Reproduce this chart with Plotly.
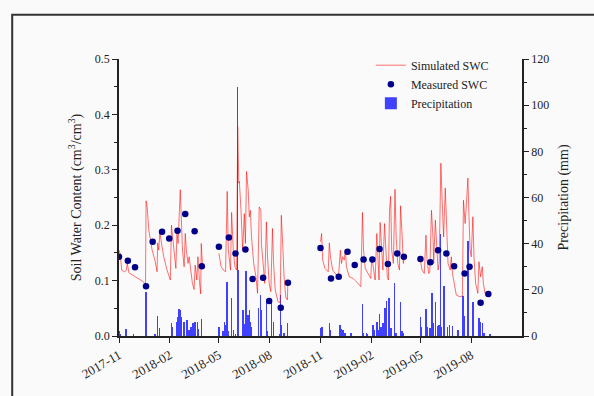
import plotly.graph_objects as go

# ---------------- data ----------------
sim_dates = [
    # segment 1
    "2017-11-01","2017-11-03","2017-11-06","2017-11-11","2017-11-14","2017-11-16","2017-11-19",
    "2017-11-25","2017-12-06","2017-12-15","2017-12-19","2017-12-20","2017-12-22","2017-12-25",
    "2017-12-31","2018-01-05","2018-01-09","2018-01-10","2018-01-12","2018-01-14","2018-01-17",
    "2018-01-21","2018-01-27","2018-02-02","2018-02-04","2018-02-06","2018-02-09","2018-02-12",
    "2018-02-14","2018-02-16","2018-02-20","2018-02-22","2018-02-24","2018-02-27","2018-03-01",
    "2018-03-03","2018-03-06","2018-03-08","2018-03-11","2018-03-14","2018-03-17","2018-03-19",
    "2018-03-22","2018-03-24","2018-03-27","2018-03-29","2018-03-30","2018-04-01",
    None,
    # segment 2
    "2018-05-01","2018-05-05","2018-05-09","2018-05-13","2018-05-16","2018-05-18","2018-05-22",
    "2018-05-24","2018-05-27","2018-05-30","2018-06-02","2018-06-04","2018-06-06","2018-06-07",
    "2018-06-10","2018-06-13","2018-06-16","2018-06-18","2018-06-20","2018-06-23","2018-06-25",
    "2018-06-27","2018-06-29","2018-07-03","2018-07-07","2018-07-10","2018-07-13","2018-07-16",
    "2018-07-17","2018-07-20","2018-07-23","2018-07-26","2018-07-28","2018-07-31","2018-08-03",
    "2018-08-06","2018-08-08","2018-08-11","2018-08-16","2018-08-20","2018-08-22","2018-08-25",
    "2018-08-27","2018-08-30","2018-09-02","2018-09-03",
    None,
    # segment 3
    "2018-11-01","2018-11-03","2018-11-05","2018-11-09","2018-11-15","2018-11-17","2018-11-19",
    "2018-11-23","2018-11-30","2018-12-04","2018-12-07","2018-12-09","2018-12-11","2018-12-14",
    "2018-12-16","2018-12-18","2018-12-23","2018-12-30","2019-01-05","2019-01-11","2019-01-13",
    "2019-01-16","2019-01-18","2019-01-21","2019-01-26","2019-01-31","2019-02-02","2019-02-05",
    "2019-02-08","2019-02-11","2019-02-13","2019-02-15","2019-02-17","2019-02-20","2019-02-22",
    "2019-02-25","2019-02-27","2019-03-02","2019-03-04","2019-03-06","2019-03-08","2019-03-10",
    "2019-03-13","2019-03-16","2019-03-18","2019-03-21","2019-03-24","2019-03-26","2019-03-29",
    "2019-03-31","2019-04-02",
    None,
    # segment 4
    "2019-05-01","2019-05-04","2019-05-08","2019-05-11","2019-05-13","2019-05-16","2019-05-18",
    "2019-05-21","2019-05-24","2019-05-25","2019-05-28","2019-05-30","2019-06-02","2019-06-04",
    "2019-06-07","2019-06-10","2019-06-12","2019-06-15","2019-06-18","2019-06-20","2019-06-24",
    "2019-06-26","2019-06-28","2019-07-01","2019-07-05","2019-07-11","2019-07-16","2019-07-18",
    "2019-07-21","2019-07-23","2019-07-26","2019-07-28","2019-07-30","2019-08-01","2019-08-04",
    "2019-08-06","2019-08-09","2019-08-13","2019-08-15","2019-08-18","2019-08-21","2019-08-23",
    "2019-08-26","2019-08-31","2019-09-04",
]
sim_swc = [
    0.155,0.149,0.119,0.116,0.118,0.131,0.114,
    0.110,0.104,0.098,0.092,0.244,0.233,0.191,
    0.155,0.137,0.116,0.168,0.155,0.188,0.167,
    0.143,0.119,0.101,0.200,0.179,0.155,0.122,
    0.188,0.167,0.264,0.203,0.155,0.125,0.185,
    0.155,0.131,0.143,0.116,0.095,0.084,0.128,
    0.101,0.143,0.095,0.076,0.167,0.131,
    None,
    0.149,0.125,0.119,0.116,0.261,0.155,0.119,
    0.223,0.155,0.125,0.119,0.378,0.276,0.279,
    0.227,0.155,0.221,0.167,0.297,0.264,0.215,
    0.227,0.179,0.131,0.107,0.077,0.233,0.227,
    0.167,0.125,0.095,0.206,0.143,0.095,0.080,
    0.194,0.131,0.083,0.062,0.060,0.218,0.155,
    0.107,0.071,0.065,0.101,
    None,
    0.170,0.185,0.137,0.122,0.116,0.168,0.143,
    0.119,0.110,0.113,0.155,0.131,0.143,0.137,
    0.155,0.125,0.107,0.104,0.098,0.092,0.089,
    0.223,0.155,0.122,0.113,0.104,0.143,0.119,
    0.101,0.185,0.131,0.101,0.205,0.143,0.119,
    0.203,0.155,0.107,0.101,0.227,0.252,0.155,
    0.131,0.265,0.179,0.131,0.119,0.235,0.179,
    0.131,0.143,
    None,
    0.137,0.119,0.113,0.182,0.137,0.113,0.116,
    0.227,0.173,0.131,0.209,0.161,0.119,0.131,
    0.312,0.227,0.179,0.267,0.179,0.131,0.119,
    0.143,0.113,0.095,0.074,0.071,0.072,0.245,
    0.203,0.233,0.285,0.215,0.155,0.143,0.215,
    0.143,0.095,0.077,0.134,0.107,0.125,0.095,
    0.077,0.072,0.071,
]

meas_dates = [
    "2017-11-01","2017-11-17","2017-11-30","2017-12-20","2018-01-01","2018-01-18","2018-01-31",
    "2018-02-15","2018-03-01","2018-03-18","2018-03-31","2018-05-01","2018-05-19","2018-05-31",
    "2018-06-18","2018-07-01","2018-07-20","2018-07-31","2018-08-21","2018-09-03","2018-11-01",
    "2018-11-20","2018-12-04","2018-12-20","2019-01-02","2019-01-18","2019-02-03","2019-02-16",
    "2019-03-03","2019-03-20","2019-04-01","2019-05-01","2019-05-19","2019-06-02","2019-06-17",
    "2019-07-01","2019-07-20","2019-07-29","2019-08-18","2019-09-01",
]
meas_swc = [
    0.143,0.136,0.124,0.090,0.170,0.188,0.176,
    0.190,0.220,0.189,0.126,0.161,0.178,0.149,
    0.156,0.103,0.105,0.063,0.051,0.096,0.159,
    0.104,0.107,0.152,0.128,0.138,0.138,0.157,
    0.130,0.149,0.143,0.139,0.133,0.155,0.149,
    0.126,0.113,0.125,0.060,0.076,
]

precip_dates = [
    "2017-11-02","2017-11-03","2017-11-14","2017-11-27","2017-12-20","2017-12-21","2018-01-05",
    "2018-01-10","2018-01-13","2018-02-04","2018-02-05","2018-02-14","2018-02-16","2018-02-18",
    "2018-02-20","2018-02-21","2018-02-27","2018-03-04","2018-03-08","2018-03-11","2018-03-15",
    "2018-03-19","2018-03-23","2018-03-25","2018-03-30",
    "2018-05-01","2018-05-02","2018-05-08","2018-05-11","2018-05-14","2018-05-16","2018-05-18",
    "2018-05-24","2018-05-27","2018-05-31","2018-06-04","2018-06-05","2018-06-14","2018-06-17",
    "2018-06-19","2018-06-20","2018-06-23","2018-06-25","2018-06-27","2018-06-29","2018-07-12",
    "2018-07-15","2018-07-17","2018-07-26","2018-07-28","2018-08-04","2018-08-08","2018-08-19",
    "2018-08-21","2018-08-22","2018-08-27","2018-09-02",
    "2018-11-01","2018-11-04","2018-11-17","2018-11-19","2018-12-06","2018-12-09","2018-12-12",
    "2018-12-15","2018-12-26","2019-01-16","2019-01-18","2019-01-23","2019-01-25","2019-02-04",
    "2019-02-07","2019-02-11","2019-02-13","2019-02-16","2019-02-19","2019-02-22","2019-02-26",
    "2019-03-01","2019-03-05","2019-03-06","2019-03-09","2019-03-15","2019-03-18","2019-03-26",
    "2019-03-29","2019-03-31",
    "2019-05-01","2019-05-03","2019-05-11","2019-05-13","2019-05-18","2019-05-22","2019-05-25",
    "2019-05-28","2019-06-02","2019-06-04","2019-06-06","2019-06-07","2019-06-13","2019-06-19",
    "2019-06-23","2019-06-28","2019-07-08","2019-07-17","2019-07-20","2019-07-26","2019-07-27",
    "2019-08-04","2019-08-15","2019-08-18","2019-08-21","2019-08-24","2019-09-04",
]
precip_mm = [
    2.0,1.0,3.0,0.5,19.0,8.0,1.0,
    8.7,3.3,5.8,4.0,6.2,8.4,11.6,
    11.3,8.4,6.0,7.0,2.6,3.8,5.5,
    6.2,6.2,3.0,7.2,
    3.8,4.0,2.0,6.2,4.8,23.5,2.0,
    16.3,2.6,0.5,107.7,28.6,11.3,5.0,
    28.2,14.0,9.0,11.3,6.2,4.0,12.3,
    17.8,11.3,14.6,2.0,15.0,6.0,1.0,
    17.8,4.8,1.4,5.5,
    3.3,3.8,5.8,2.6,4.8,3.0,2.6,
    1.4,1.2,13.7,1.2,1.4,1.0,4.8,
    2.6,6.2,2.6,9.4,4.0,5.5,12.3,
    15.0,16.3,10.5,3.3,22.8,1.2,14.9,
    2.0,1.4,
    8.4,4.0,11.6,4.0,3.3,18.5,5.5,
    14.9,4.3,4.8,44.0,4.0,21.7,4.0,
    4.8,4.3,2.6,17.3,8.7,41.0,28.9,
    14.9,7.9,6.2,5.5,1.2,1.0,
]

swc_ticks = [0.0, 0.1, 0.2, 0.3, 0.4, 0.5]
precip_ticks = [0, 20, 40, 60, 80, 100, 120]
date_ticks = ["2017-11-01","2018-02-01","2018-05-01","2018-08-01",
              "2018-11-01","2019-02-01","2019-05-01","2019-08-01"]
date_labels = ["2017-11","2018-02","2018-05","2018-08",
               "2018-11","2019-02","2019-05","2019-08"]

# ---------------- figure ----------------
FONT = "Liberation Serif, Times New Roman, serif"
INK = "#222222"

fig = go.Figure()

fig.add_trace(go.Bar(
    x=precip_dates, y=precip_mm, name="Precipitation", yaxis="y",
    width=86400000 * 0.9,
    marker=dict(color="#4040ff", line=dict(width=0)),
    legendrank=3,
))
fig.add_trace(go.Scatter(
    x=sim_dates, y=sim_swc, name="Simulated SWC", yaxis="y2",
    mode="lines", connectgaps=False,
    line=dict(color="rgba(255,0,0,0.7)", width=0.8),
    legendrank=1,
))
fig.add_trace(go.Scatter(
    x=meas_dates, y=meas_swc, name="Measured SWC", yaxis="y2",
    mode="markers",
    marker=dict(color="#00008b", size=6.5),
    legendrank=2,
))

axis_common = dict(
    showline=True, linecolor=INK, linewidth=1.5,
    ticks="outside", ticklen=5, tickwidth=1.2, tickcolor=INK,
    showgrid=False, zeroline=False,
    tickfont=dict(family=FONT, size=12, color=INK),
)

fig.update_layout(
    width=594, height=396,
    margin=dict(l=119, r=72, t=59, b=60),
    paper_bgcolor="#fafafa", plot_bgcolor="rgba(0,0,0,0)",
    font=dict(family=FONT, size=12, color=INK),
    bargap=0,
    xaxis=dict(
        **{**axis_common, "tickfont": dict(family=FONT, size=13, color=INK)},
        type="date", range=["2017-11-01", "2019-11-01"],
        tickvals=date_ticks, ticktext=date_labels, tickangle=-30,
    ),
    yaxis=dict(
        **axis_common,
        side="right", range=[0, 120], tickvals=precip_ticks,
        minor=dict(ticks="outside", ticklen=3, dtick=10, tickcolor=INK, tickwidth=1),
        title=dict(text="Precipitation (mm)", font=dict(family=FONT, size=14, color=INK), standoff=10),
    ),
    yaxis2=dict(
        **axis_common,
        side="left", overlaying="y", range=[0, 0.5], tickvals=swc_ticks, tickformat=".1f",
        minor=dict(ticks="outside", ticklen=3, dtick=0.05, tickcolor=INK, tickwidth=1),
        title=dict(text="Soil Water Content (cm<sup>3</sup>/cm<sup>3</sup>)",
                   font=dict(family=FONT, size=14, color=INK), standoff=10),
    ),
    legend=dict(
        x=0.625, y=1.03, xanchor="left", yanchor="top",
        bgcolor="rgba(0,0,0,0)", font=dict(family=FONT, size=12, color=INK),
        tracegroupgap=0,
    ),
    showlegend=True,
)

# outer frame of the figure panel (extends past the right/bottom edges)
fig.add_shape(type="rect", xref="paper", yref="paper",
              x0=-0.265, x1=1.2, y0=-0.25, y1=1.16,
              line=dict(color="#333333", width=2), fillcolor="rgba(0,0,0,0)", layer="below")

fig.write_html("out.html")
